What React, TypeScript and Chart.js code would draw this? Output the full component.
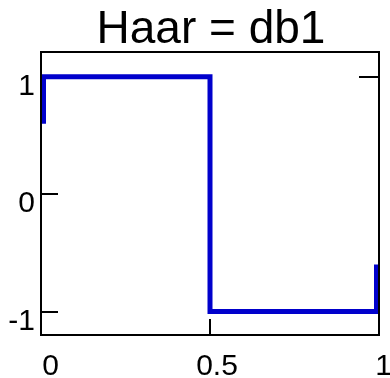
import { useEffect, useRef } from "react";
import { Chart, registerables } from "chart.js";

Chart.register(...registerables);

const title = "Haar = db1";

// Haar wavelet psi(t), drawn as a step trace
const waveX = [0, 0, 0.5, 0.5, 0.5, 1, 1];
const waveY = [0.6, 1, 1, 0, -1, -1, -0.6];

const xTicks = [0, 0.5, 1];
const xTickLabels = ["0", "0.5", "1"];
const yTicks = [1, 0, -1];
const yTickLabels = ["1", "0", "-1"];
const rightTicks = [1];

const xLimits = [-0.0075, 1.0075];
const yLimits = [-1.2, 1.21];

const FONT = '"Liberation Sans", Arial, Helvetica, sans-serif';

const frameAndLabels = {
  id: "frameAndLabels",
  // inward tick marks sit underneath the trace
  beforeDatasetsDraw(chart: any) {
    const { ctx, chartArea, scales } = chart;
    const { left, right, bottom } = chartArea;
    const xs = scales.x;
    const ys = scales.y;
    ctx.save();
    ctx.strokeStyle = "#000";
    ctx.lineWidth = 2;
    ctx.lineCap = "butt";
    ctx.beginPath();
    yTicks.forEach((v) => {
      const py = Math.round(ys.getPixelForValue(v));
      ctx.moveTo(left, py);
      ctx.lineTo(left + 17, py);
    });
    rightTicks.forEach((v) => {
      const py = Math.round(ys.getPixelForValue(v));
      ctx.moveTo(right - 20, py);
      ctx.lineTo(right, py);
    });
    xTicks.forEach((v) => {
      const px = Math.round(xs.getPixelForValue(v));
      if (px - left < 5 || right - px < 5) return;
      ctx.moveTo(px, bottom);
      ctx.lineTo(px, bottom - 16);
    });
    ctx.stroke();
    ctx.restore();
  },
  afterDraw(chart: any) {
    const { ctx, chartArea, scales } = chart;
    const { left, right, top, bottom } = chartArea;
    const xs = scales.x;
    const ys = scales.y;
    ctx.save();
    ctx.strokeStyle = "#000";
    ctx.lineWidth = 2;

    // axes box
    ctx.strokeRect(left, top, right - left, bottom - top);

    // tick labels
    ctx.fillStyle = "#000";
    ctx.font = `30px ${FONT}`;
    ctx.textBaseline = "alphabetic";
    ctx.textAlign = "right";
    yTicks.forEach((v, i) => {
      const py = ys.getPixelForValue(v);
      ctx.fillText(yTickLabels[i], left - 6, py + 18);
    });
    ctx.textAlign = "center";
    xTicks.forEach((v, i) => {
      const px = xs.getPixelForValue(v);
      ctx.fillText(xTickLabels[i], px + 7, 375);
    });

    // title
    ctx.font = `46px ${FONT}`;
    ctx.fillText(title, (left + right) / 2 + 1, 43);
    ctx.restore();
  },
};

export default function App() {
  const canvasRef = useRef<HTMLCanvasElement | null>(null);

  useEffect(() => {
    const canvas = canvasRef.current;
    if (!canvas) return;
    const chart = new Chart(canvas, {
      type: "line",
      data: {
        datasets: [
          {
            data: waveX.map((x, i) => ({ x, y: waveY[i] })),
            borderColor: "#0000cc",
            backgroundColor: "#0000cc",
            borderWidth: 5,
            borderJoinStyle: "miter",
            borderCapStyle: "butt",
            pointRadius: 0,
            tension: 0,
            fill: false,
          },
        ],
      },
      options: {
        animation: false,
        responsive: false,
        devicePixelRatio: 1,
        layout: { padding: { left: 41, right: 11, top: 52, bottom: 43 } },
        plugins: {
          legend: { display: false },
          tooltip: { enabled: false },
          title: { display: false },
        },
        scales: {
          x: { type: "linear", min: xLimits[0], max: xLimits[1], display: false },
          y: { type: "linear", min: yLimits[0], max: yLimits[1], display: false },
        },
      },
      plugins: [frameAndLabels],
    });
    return () => chart.destroy();
  }, []);

  return (
    <div style={{ position: "absolute", left: 0, top: 0, width: 390, height: 378, background: "#fff" }}>
      <canvas ref={canvasRef} width={390} height={378} style={{ width: 390, height: 378, display: "block" }} />
    </div>
  );
}
